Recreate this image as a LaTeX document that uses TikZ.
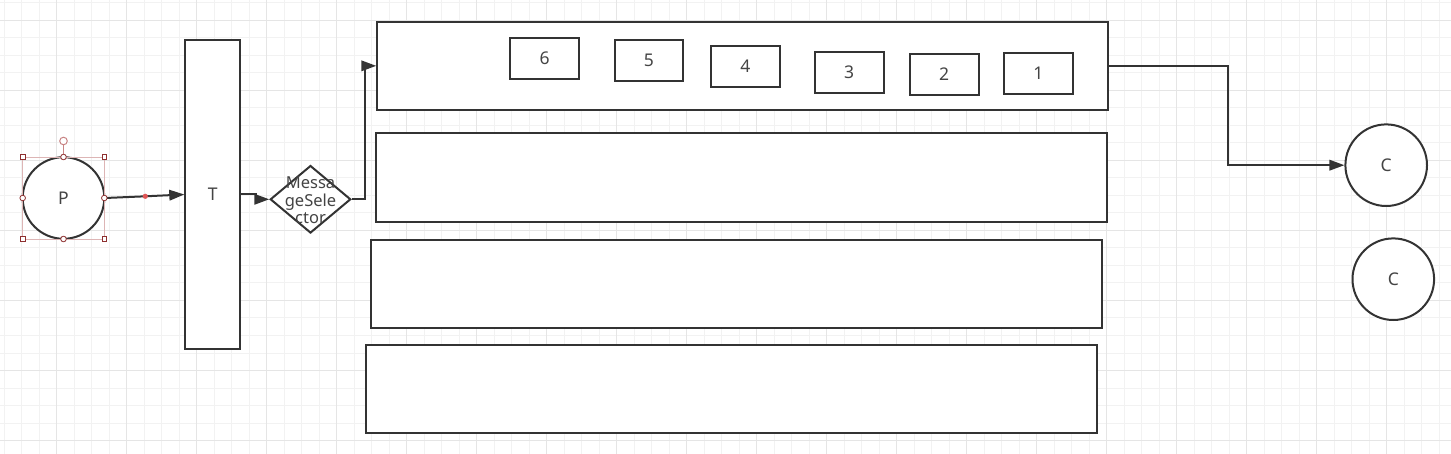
\documentclass[tikz,border=0pt]{standalone}
\usepackage{fontspec}
\setmainfont{Noto Sans}
\usetikzlibrary{arrows.meta,shapes.geometric}
\definecolor{ln}{HTML}{333333}
\definecolor{tx}{HTML}{444444}
\definecolor{gmin}{HTML}{F2F2F2}
\definecolor{gmaj}{HTML}{E5E5E5}
\definecolor{selc}{HTML}{DDB5B5}
\definecolor{hdl}{HTML}{8E2F2F}
\definecolor{rotc}{HTML}{C98585}
\definecolor{wpt}{HTML}{E05555}
\begin{document}
\begin{tikzpicture}[x=1pt,y=-1pt,
  shp/.style={draw=ln, line width=2pt, fill=white, inner sep=0pt,
    font=\fontsize{17.5}{17.5}\selectfont, text=tx},
  blk/.style={shp, rectangle, minimum width=730.5pt, minimum height=88.5pt},
  cell/.style={shp, rectangle, minimum width=68.7pt, minimum height=40.5pt},
  circ/.style={shp, circle, minimum size=81.6pt},
  dia/.style={shp, diamond, minimum width=80.5pt, minimum height=67.5pt},
  txt/.style={inner sep=0pt, font=\fontsize{16.5}{17.5}\selectfont, text=tx},
  con/.style={draw=ln, line width=2pt, -{Triangle[length=15pt,width=10.5pt]}},
  hsq/.style={draw=hdl, fill=white, line width=0.8pt},
]
\useasboundingbox (0,0) rectangle (1451,454);
\fill[white] (0,0) rectangle (1451,454);
% grid
\foreach \gx in {4,21.5,...,1451} \draw[gmin, line width=1pt] (\gx,0) -- (\gx,454);
\foreach \gy in {3,20.5,...,454} \draw[gmin, line width=1pt] (0,\gy) -- (1451,\gy);
\foreach \gx in {56.5,126.5,...,1451} \draw[gmaj, line width=1pt] (\gx,0) -- (\gx,454);
\foreach \gy in {20.5,90.5,...,454} \draw[gmaj, line width=1pt] (0,\gy) -- (1451,\gy);

% shapes
\node[circ] (P) at (63.5,198) {P};
\node[shp, rectangle, minimum width=55pt, minimum height=308.4pt] (T) at (212.8,194.5) {T};
\node[dia] (D) at (310.5,199.3) {};
\node[txt, align=center] (Dt) at (310.5,200.3) {Messa\\geSele\\ctor};

\node[blk] (R1) at (742.5,65.85) {};
\node[blk] (R2) at (741.35,177.3) {};
\node[blk] (R3) at (736.5,284.1) {};
\node[blk] (R4) at (731.5,389) {};

\node[cell] (B6) at (544.5,58.5) {6};
\node[cell] (B5) at (648.85,60.65) {5};
\node[cell] (B4) at (745.35,66.35) {4};
\node[cell] (B3) at (849.15,72.7) {3};
\node[cell] (B2) at (944.15,74.5) {2};
\node[cell] (B1) at (1038.35,73.35) {1};

\node[circ] (C1) at (1386.2,165.2) {C};
\node[circ] (C2) at (1393.3,279.2) {C};

% connectors
\coordinate (wp) at (145.3,196.3);
\draw[con] (P.east) -- (wp) -- (T.west);
\draw[con] (T.east) -- ++(14.7,0) |- (D.west);
\draw[con] (D.east) -- ++(13.3,0) |- (R1.west);
\draw[con] (R1.east) -- ++(119,0) |- (C1.west);
\fill[wpt] (wp) circle[radius=2.6pt];

% selection handles around P
\begin{scope}[shift={(P.center)}]
  \draw[selc, line width=0.8pt] (-40.8,-41) rectangle (40.8,41);
  \draw[rotc, line width=1pt] (0,-53) -- (0,-41);
  \draw[rotc, fill=white, line width=1pt] (0,-57) circle[radius=3.8pt];
  \foreach \hx/\hy in {-40.8/-41, 40.8/-41, -40.8/41, 40.8/41}
    \draw[hsq] (\hx-2.4,\hy-2.4) rectangle ++(4.8,4.8);
  \foreach \hx/\hy in {0/-41, -40.8/0, 40.8/0, 0/41}
    \draw[hsq] (\hx,\hy) circle[radius=2.8pt];
\end{scope}
\end{tikzpicture}
\end{document}
